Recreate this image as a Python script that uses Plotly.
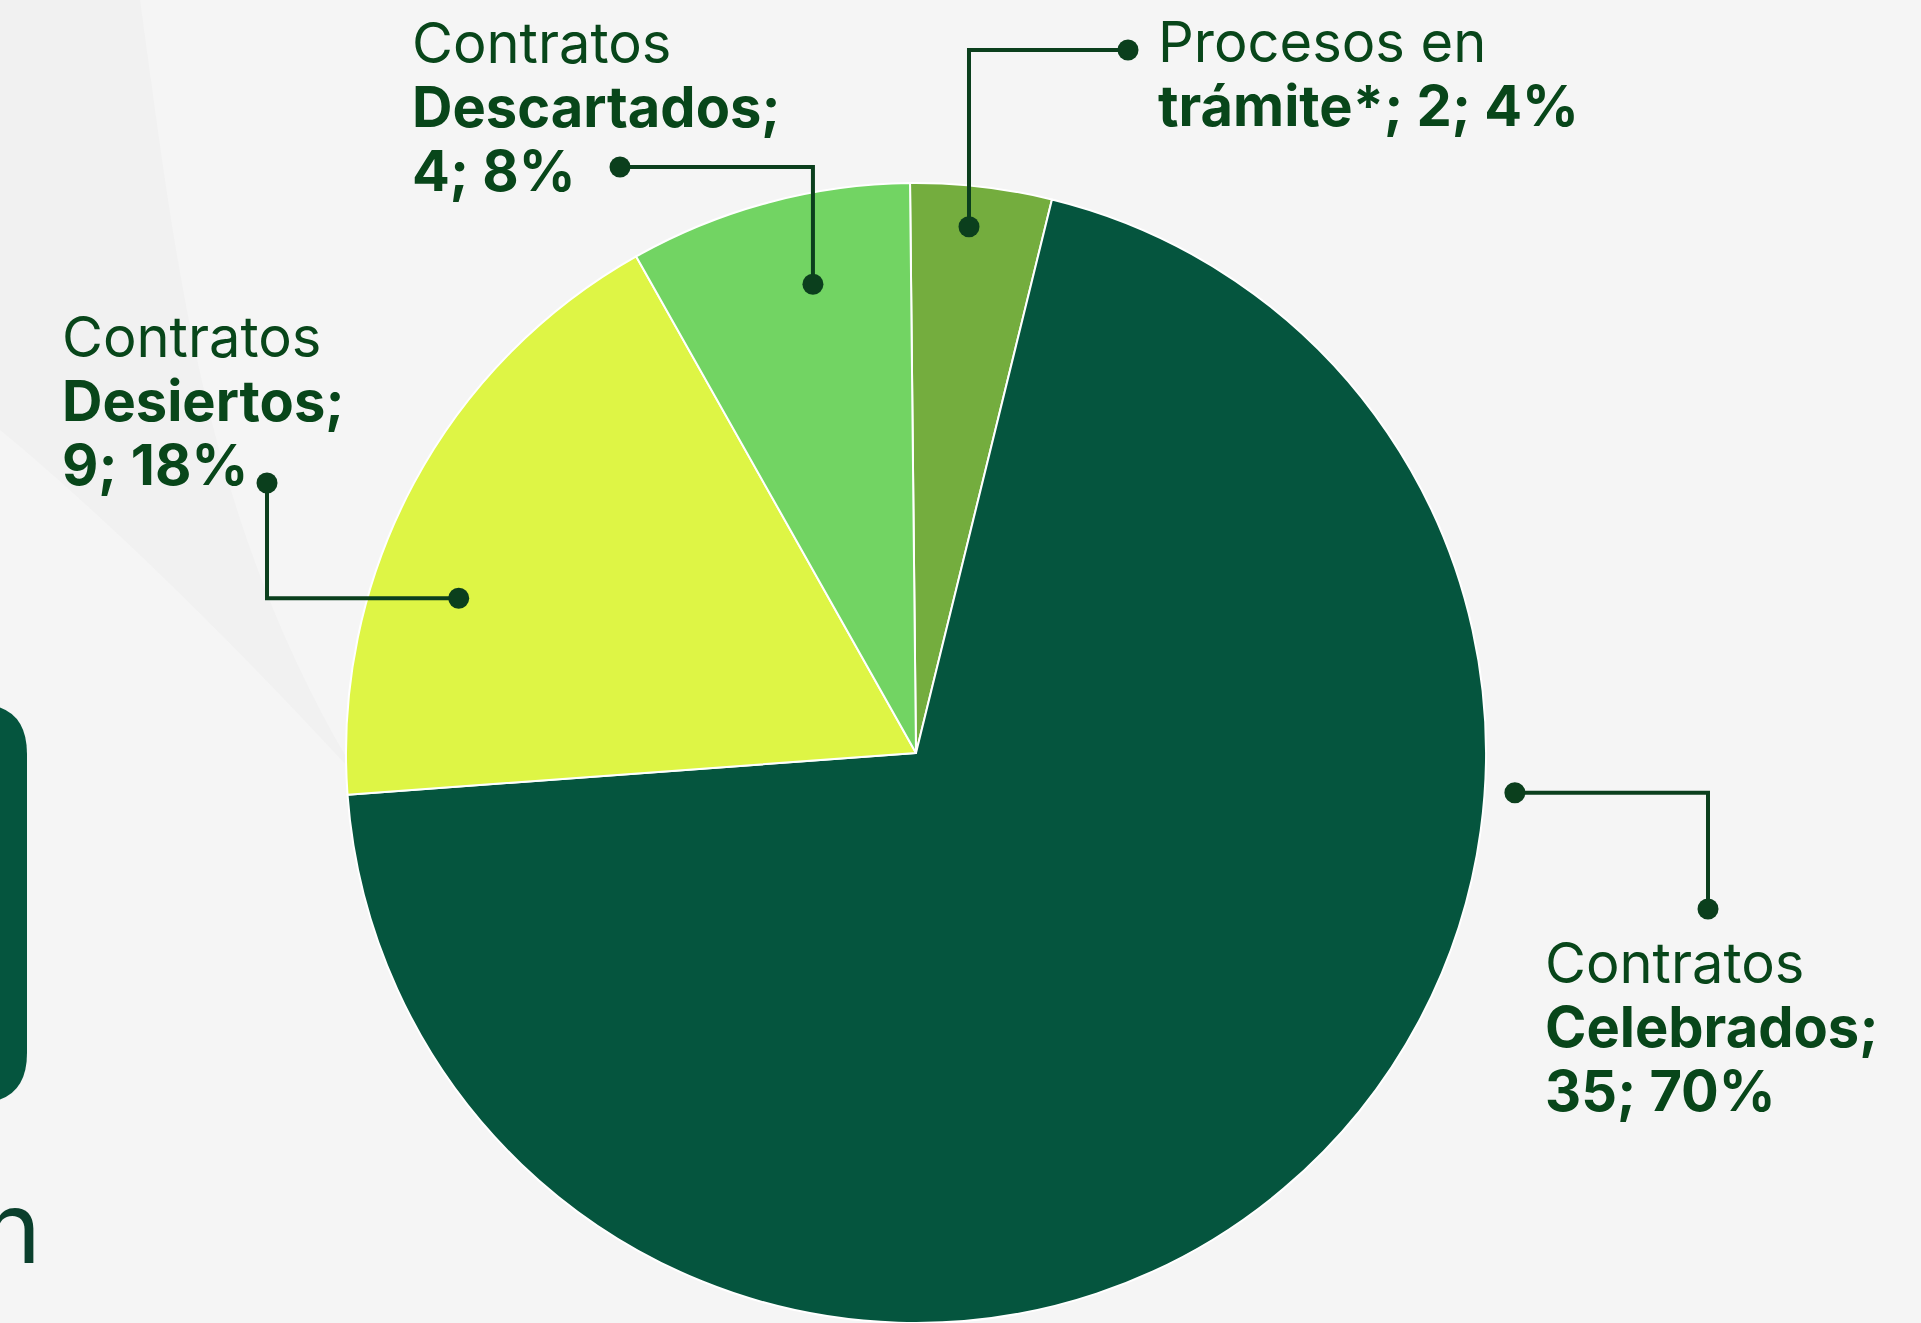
import math
import plotly.graph_objects as go

# data
labels = ["Procesos en trámite*", "Contratos Celebrados", "Contratos Desiertos", "Contratos Descartados"]
values = [2, 35, 9, 4]
head_text = ["Procesos en", "Contratos", "Contratos", "Contratos"]
bold_text = ["trámite*", "Celebrados", "Desiertos", "Descartados"]
colors = ["#74AD3E", "#05553E", "#DEF545", "#72D463"]

W, H = 1921, 1323
TEXT_COLOR = "#08461A"
LINE_COLOR = "#0B3F1D"
FONT = "Inter"
FS = 56
LINE_GAP = 64

# pie placement in pixels
cx, cy, R = 916, 753, 570

# label layout: anchor on the pie (angle clockwise from 12 o'clock, radius fraction),
# elbow legs, and where the text block starts (left x, first baseline y)
label_layout = [
    dict(angle=5.75, rf=0.928, legs=[("v", 50), ("h", 1128)], text=(1158, 62), inline=True),
    dict(angle=93.8, rf=1.053, legs=[("h", 1708), ("v", 909)], text=(1545, 983), inline=False),
    dict(angle=288.7, rf=0.847, legs=[("h", 267), ("v", 483)], text=(62, 357), inline=False),
    dict(angle=347.6, rf=0.842, legs=[("v", 167), ("h", 620)], text=(412, 63), inline=False),
]


def px(x):
    return x / W


def py(y):
    return 1 - y / H


fig = go.Figure()
fig.add_trace(go.Pie(
    labels=labels, values=values, sort=False, direction="clockwise", rotation=-0.6,
    marker=dict(colors=colors, line=dict(color="white", width=2)),
    textinfo="none", hoverinfo="label+value+percent", showlegend=False,
    domain=dict(x=[px(cx - R), px(cx + R)], y=[py(cy + R), py(cy - R)]),
))

total = sum(values)
shapes = []
annotations = []

# background decoration (very faint)
shapes.append(dict(type="path", xref="paper", yref="paper", layer="below",
                   path=f"M {px(0)},{py(0)} L {px(140)},{py(0)} C {px(175)},{py(250)} {px(200)},{py(520)} {px(360)},{py(780)} "
                        f"C {px(250)},{py(660)} {px(110)},{py(520)} {px(0)},{py(430)} Z",
                   fillcolor="#F1F1F1", line=dict(width=0)))
shapes.append(dict(type="path", xref="paper", yref="paper", layer="below",
                   path=f"M {px(-80)},{py(704)} L {px(-23)},{py(704)} Q {px(27)},{py(704)} {px(27)},{py(754)} "
                        f"L {px(27)},{py(1053)} Q {px(27)},{py(1103)} {px(-23)},{py(1103)} L {px(-80)},{py(1103)} Z",
                   fillcolor="#05553E", line=dict(width=0)))
annotations.append(dict(xref="paper", yref="paper", x=px(43), y=py(1289), xanchor="right", yanchor="bottom",
                        text="n", showarrow=False, font=dict(family=FONT, size=100, color="#0A3F2C")))

for lay, v, h, b in zip(label_layout, values, head_text, bold_text):
    a = math.radians(lay["angle"])
    x0 = cx + lay["rf"] * R * math.sin(a)
    y0 = cy - lay["rf"] * R * math.cos(a)
    pts = [(x0, y0)]
    for kind, val in lay["legs"]:
        lx, ly = pts[-1]
        pts.append((lx, val) if kind == "v" else (val, ly))
    path = "M " + " L ".join(f"{px(x)},{py(y)}" for x, y in pts)
    shapes.append(dict(type="path", xref="paper", yref="paper", path=path, layer="above",
                       line=dict(color=LINE_COLOR, width=4)))
    for x, y in (pts[0], pts[-1]):
        shapes.append(dict(type="circle", xref="paper", yref="paper", layer="above",
                           x0=px(x - 10.5), x1=px(x + 10.5), y0=py(y - 10.5), y1=py(y + 10.5),
                           fillcolor=LINE_COLOR, line=dict(width=0)))

    pct = round(v / total * 100)
    if lay["inline"]:
        lines = [(h, False), (f"{b}; {v}; {pct}%", True)]
    else:
        lines = [(h, False), (f"{b};", True), (f"{v}; {pct}%", True)]
    tx, ty = lay["text"]
    for i, (t, bold) in enumerate(lines):
        base = ty + i * LINE_GAP
        annotations.append(dict(xref="paper", yref="paper", x=px(tx - 2), y=py(base - 0.36 * FS),
                                xanchor="left", yanchor="middle", showarrow=False,
                                text=f"<b>{t}</b>" if bold else t,
                                font=dict(family=FONT, size=FS, color=TEXT_COLOR)))

fig.update_layout(
    width=W, height=H,
    margin=dict(l=0, r=0, t=0, b=0),
    paper_bgcolor="#F5F5F5", plot_bgcolor="#F5F5F5",
    shapes=shapes, annotations=annotations,
    showlegend=False,
)

fig.write_html("out.html", config={"displayModeBar": False},
               post_script="document.body.style.margin = '0';")
